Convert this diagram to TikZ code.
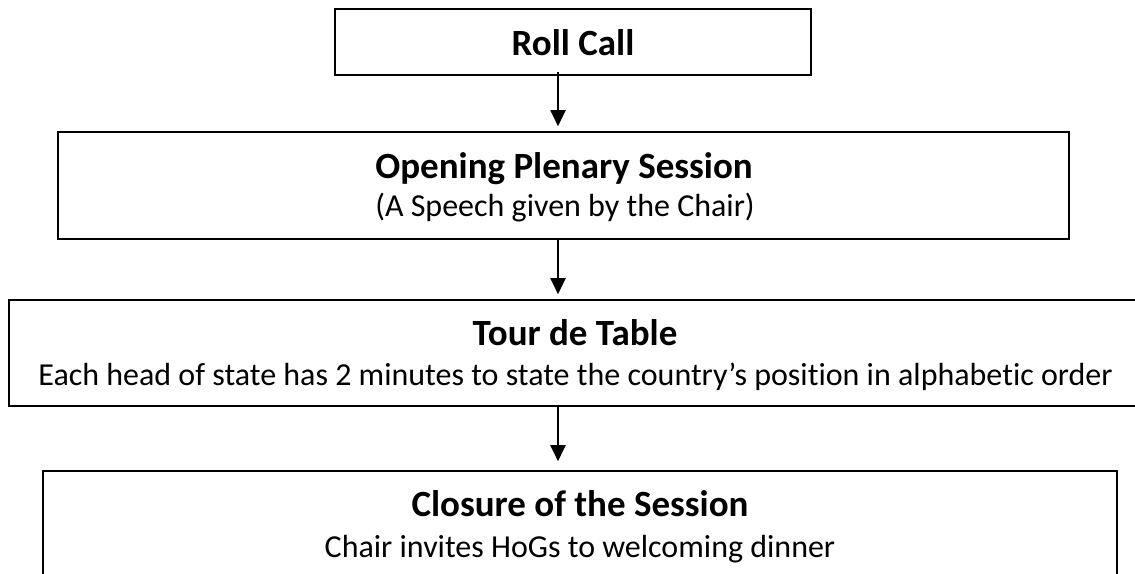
\documentclass[tikz,border=0pt]{standalone}
\usepackage{fontspec}
\setmainfont{Carlito}[RawFeature={-liga}]
\usetikzlibrary{arrows.meta}
\begin{document}
\begin{tikzpicture}[x=1pt,y=-1pt,
  box/.style={draw, line width=1.6pt, rectangle, inner sep=0pt},
  ttl/.style={font=\fontsize{37}{37}\selectfont\bfseries, anchor=base, inner sep=0pt},
  sub/.style={font=\fontsize{32}{32}\selectfont, anchor=base, inner sep=0pt},
  arr/.style={line width=2pt, -{Triangle[width=15pt,length=16pt]}}]
\useasboundingbox (0,0) rectangle (1135,573);
\node[box, minimum width=476pt, minimum height=66pt] (b1) at (573,42) {};
\node[box, minimum width=1011pt, minimum height=107pt] (b2) at (563.5,185.5) {};
\node[box, minimum width=1132pt, minimum height=106pt] (b3) at (575,353) {};
\node[box, minimum width=1074pt, minimum height=106pt] (b4) at (580,524) {};
\node[ttl] (t1) at (573,55.7) {Roll Call};
\node[ttl] (t2) at (564,178.3) {Opening Plenary Session};
\node[sub] (s2) at (565,216) {(A Speech given by the Chair)};
\node[ttl] (t3) at (575,345) {Tour de Table};
\node[sub] (s3) at (575.6,385.5) {Each head of state has 2 minutes to state the country’s position in alphabetic order};
\node[ttl] (t4) at (580,516.7) {Closure of the Session};
\node[sub] (s4) at (580,557) {Chair invites HoGs to welcoming dinner};
\coordinate (ax) at (558,0);
\draw[arr, shorten <=-4pt, shorten >=5pt] (ax |- b1.south) -- (ax |- b2.north);
\draw[arr, shorten >=5pt] (ax |- b2.south) -- (ax |- b3.north);
\draw[arr, shorten >=9pt] (ax |- b3.south) -- (ax |- b4.north);
\end{tikzpicture}
\end{document}
